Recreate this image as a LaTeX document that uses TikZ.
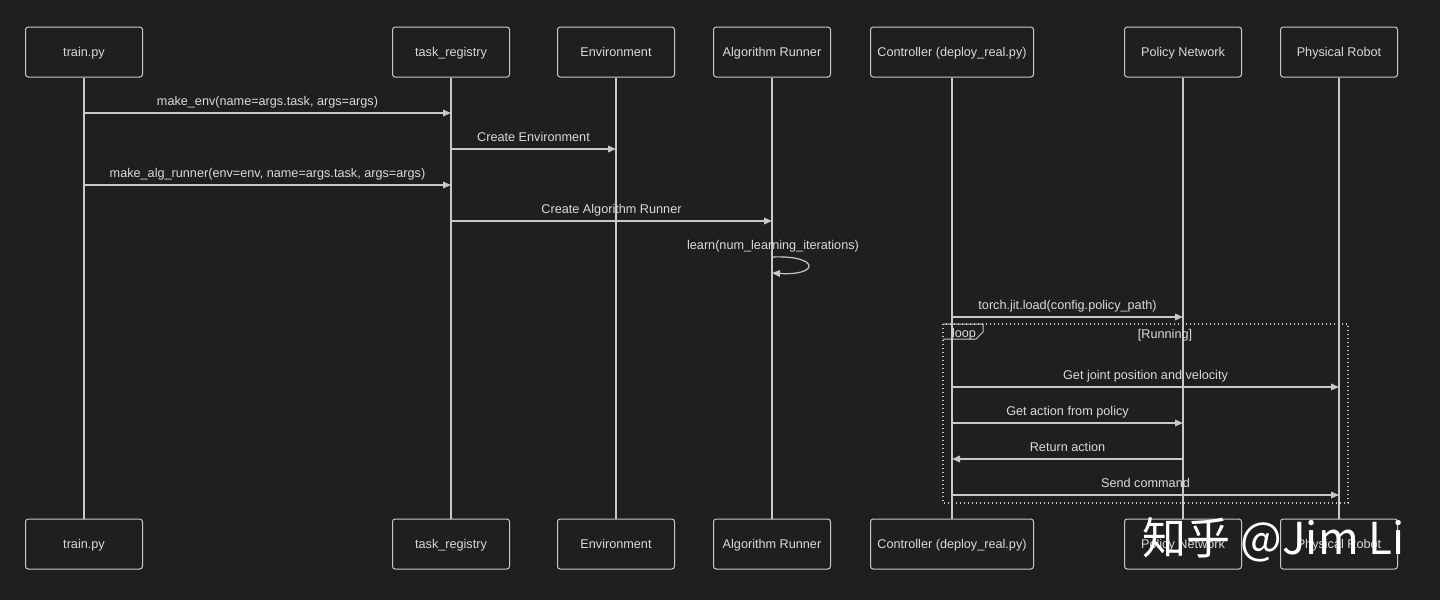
\documentclass[tikz,border=0pt]{standalone}
\usepackage{fontspec}
\setmainfont{Liberation Sans}
\newfontfamily\cjk{Noto Sans CJK SC}
\usetikzlibrary{arrows.meta}

\definecolor{bgdark}{HTML}{1F1F1F}
\definecolor{linegray}{HTML}{C8C8C8}
\definecolor{txtgray}{HTML}{DADADA}

\tikzset{every picture/.style={line width=0.75pt}}
\tikzset{
  actor/.style={draw=linegray, fill=bgdark, rounded corners=2pt, minimum width=87.75pt, minimum height=37.5pt, text=txtgray, text height=8pt, text depth=1pt, font=\fontsize{9.5}{11}\selectfont},
  life/.style={draw=linegray, line width=0.9pt},
  msg/.style={draw=linegray, line width=0.9pt, -{Triangle[length=6pt,width=5pt]}},
  msgtext/.style={text=txtgray, text height=7pt, text depth=2pt, font=\fontsize{9.5}{11}\selectfont}
}

\begin{document}
\begin{tikzpicture}[x=0.75pt,y=0.75pt,yscale=-1,xscale=1]

\fill[bgdark] (0,0) rectangle (1440,600);
\useasboundingbox (0,0) rectangle (1440,600);

% participants, top row
\node [actor] (train) at (84,52) {train.py};
\node [actor] (reg) at (451,52) {task\_registry};
\node [actor] (env) at (616,52) {Environment};
\node [actor] (runner) at (772,52) {Algorithm Runner};
\node [actor, minimum width=122.25pt] (ctrl) at (952,52) {Controller (deploy\_real.py)};
\node [actor] (policy) at (1183,52) {Policy Network};
\node [actor] (robot) at (1339,52) {Physical Robot};

% participants, bottom row
\node [actor] (trainB) at (84,544) {train.py};
\node [actor] (regB) at (451,544) {task\_registry};
\node [actor] (envB) at (616,544) {Environment};
\node [actor] (runnerB) at (772,544) {Algorithm Runner};
\node [actor, minimum width=122.25pt] (ctrlB) at (952,544) {Controller (deploy\_real.py)};
\node [actor] (policyB) at (1183,544) {Policy Network};
\node [actor] (robotB) at (1339,544) {Physical Robot};

% lifelines
\draw [life] (train) -- (trainB);
\draw [life] (reg) -- (regB);
\draw [life] (env) -- (envB);
\draw [life] (runner) -- (runnerB);
\draw [life] (ctrl) -- (ctrlB);
\draw [life] (policy) -- (policyB);
\draw [life] (robot) -- (robotB);

% training side
\draw [msg] (train |- 0,113) -- (reg |- 0,113) node [midway, above=0pt, msgtext] {make\_env(name=args.task, args=args)};
\draw [msg] (reg |- 0,149) -- (env |- 0,149) node [midway, above=0pt, msgtext] {Create Environment};
\draw [msg] (train |- 0,185) -- (reg |- 0,185) node [midway, above=0pt, msgtext] {make\_alg\_runner(env=env, name=args.task, args=args)};
\draw [msg] (reg |- 0,221) -- (runner |- 0,221) node [midway, above=0pt, msgtext] {Create Algorithm Runner};
\node [msgtext] (learn) at (773,246) {learn(num\_learning\_iterations)};
\draw [msg] (runner |- 0,257) .. controls (820,255) and (820,276) .. (runner |- 0,273);

% deployment side
\draw [msg] (ctrl |- 0,317) -- (policy |- 0,317) node [midway, above=0pt, msgtext] {torch.jit.load(config.policy\_path)};

% loop frame
\draw [linegray, dotted, line width=1pt] (943,324) rectangle (1348,503);
\draw [linegray, line width=0.75pt] (943,324) -- (983,324) -- (983,332) -- (976,339) -- (943,339);
\node [msgtext] (looplbl) at (964,334) {loop};
\node [msgtext] (cond) at (1165,335) {[Running]};

\draw [msg] (ctrl |- 0,387) -- (robot |- 0,387) node [midway, above=0pt, msgtext] {Get joint position and velocity};
\draw [msg] (ctrl |- 0,423) -- (policy |- 0,423) node [midway, above=0pt, msgtext] {Get action from policy};
\draw [msg] (policy |- 0,459) -- (ctrl |- 0,459) node [midway, above=0pt, msgtext] {Return action};
\draw [msg] (ctrl |- 0,495) -- (robot |- 0,495) node [midway, above=0pt, msgtext] {Send command};

% watermark
\node [text=white, font=\cjk\fontsize{33}{38}\selectfont, anchor=west] (mark) at (1138,540) {知乎 @Jim Li};

\end{tikzpicture}
\end{document}
